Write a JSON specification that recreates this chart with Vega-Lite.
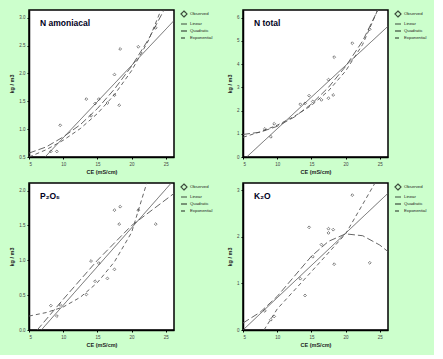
{
  "$schema": "https://vega.github.io/schema/vega-lite/v6.json",
  "background": "#ccffcc",
  "padding": {"left": 8, "top": 9, "right": 6, "bottom": 6},
  "config": {
    "font": "Liberation Sans",
    "view": {"stroke": "#000", "strokeWidth": 1.5, "fill": "white"},
    "axis": {"grid": false, "domainColor": "#000", "domainWidth": 1.5, "tickColor": "#000", "tickSize": 2, "labelFontSize": 4.5, "labelColor": "#444", "labelPadding": 2, "titleFontSize": 5.5, "titleColor": "#222", "titleFontWeight": "bold"},
    "legend": {"orient": "right", "offset": 6, "title": null, "labelFontSize": 4.3, "labelColor": "#222", "symbolSize": 36, "rowPadding": -1, "labelOffset": 2, "symbolStrokeWidth": 1.2, "symbolStrokeColor": "#000", "padding": 0},
    "title": {"anchor": "start", "frame": "group", "fontSize": 8.5, "fontWeight": "bold", "color": "#000022", "dx": 11, "offset": -17}
  },
  "datasets": {
    "d": [
      {"p":"A","t":"Observed","x":8.19,"y":0.60},{"p":"A","t":"Observed","x":9.07,"y":0.60},{"p":"A","t":"Observed","x":9.56,"y":1.07},{"p":"A","t":"Observed","x":13.38,"y":1.54},{"p":"A","t":"Observed","x":14.07,"y":1.24},{"p":"A","t":"Observed","x":14.66,"y":1.46},{"p":"A","t":"Observed","x":15.2,"y":1.54},{"p":"A","t":"Observed","x":16.47,"y":1.47},{"p":"A","t":"Observed","x":17.5,"y":1.61},{"p":"A","t":"Observed","x":17.5,"y":1.98},{"p":"A","t":"Observed","x":18.19,"y":1.43},{"p":"A","t":"Observed","x":18.33,"y":2.44},{"p":"A","t":"Observed","x":20.98,"y":2.48},{"p":"A","t":"Observed","x":23.53,"y":2.82},
      {"p":"A","t":"Linear","x":7.35,"y":0.5},{"p":"A","t":"Linear","x":26.2,"y":2.95},
      {"p":"A","t":"Quadratic","x":5,"y":0.57},{"p":"A","t":"Quadratic","x":7.5,"y":0.68},{"p":"A","t":"Quadratic","x":10,"y":0.86},{"p":"A","t":"Quadratic","x":12.5,"y":1.08},{"p":"A","t":"Quadratic","x":15,"y":1.37},{"p":"A","t":"Quadratic","x":17.5,"y":1.72},{"p":"A","t":"Quadratic","x":20,"y":2.13},{"p":"A","t":"Quadratic","x":22.5,"y":2.62},{"p":"A","t":"Quadratic","x":25,"y":3.2},
      {"p":"A","t":"Exponential","x":5,"y":0.5},{"p":"A","t":"Exponential","x":7.5,"y":0.63},{"p":"A","t":"Exponential","x":10,"y":0.8},{"p":"A","t":"Exponential","x":12.5,"y":1.01},{"p":"A","t":"Exponential","x":15,"y":1.28},{"p":"A","t":"Exponential","x":17.5,"y":1.62},{"p":"A","t":"Exponential","x":20,"y":2.05},{"p":"A","t":"Exponential","x":22.5,"y":2.6},{"p":"A","t":"Exponential","x":24.5,"y":3.2},
      {"p":"B","t":"Observed","x":8.19,"y":1.21},{"p":"B","t":"Observed","x":9.07,"y":0.87},{"p":"B","t":"Observed","x":9.56,"y":1.43},{"p":"B","t":"Observed","x":13.38,"y":2.27},{"p":"B","t":"Observed","x":14.07,"y":2.31},{"p":"B","t":"Observed","x":14.66,"y":2.64},{"p":"B","t":"Observed","x":15.2,"y":2.39},{"p":"B","t":"Observed","x":16.47,"y":2.46},{"p":"B","t":"Observed","x":17.5,"y":2.53},{"p":"B","t":"Observed","x":17.5,"y":3.33},{"p":"B","t":"Observed","x":18.19,"y":2.67},{"p":"B","t":"Observed","x":18.33,"y":4.3},{"p":"B","t":"Observed","x":20.98,"y":4.9},{"p":"B","t":"Observed","x":23.53,"y":5.5},
      {"p":"B","t":"Linear","x":5.54,"y":0},{"p":"B","t":"Linear","x":26.2,"y":5.63},
      {"p":"B","t":"Quadratic","x":5,"y":0.97},{"p":"B","t":"Quadratic","x":7.5,"y":1.07},{"p":"B","t":"Quadratic","x":10,"y":1.32},{"p":"B","t":"Quadratic","x":12.5,"y":1.72},{"p":"B","t":"Quadratic","x":15,"y":2.28},{"p":"B","t":"Quadratic","x":17.5,"y":3.0},{"p":"B","t":"Quadratic","x":20,"y":3.9},{"p":"B","t":"Quadratic","x":22.5,"y":5.0},{"p":"B","t":"Quadratic","x":25,"y":6.5},
      {"p":"B","t":"Exponential","x":5,"y":0.85},{"p":"B","t":"Exponential","x":7.5,"y":1.08},{"p":"B","t":"Exponential","x":10,"y":1.37},{"p":"B","t":"Exponential","x":12.5,"y":1.75},{"p":"B","t":"Exponential","x":15,"y":2.22},{"p":"B","t":"Exponential","x":17.5,"y":2.85},{"p":"B","t":"Exponential","x":20,"y":3.7},{"p":"B","t":"Exponential","x":22.5,"y":4.85},{"p":"B","t":"Exponential","x":24.5,"y":6.2},{"p":"B","t":"Exponential","x":25,"y":6.6},
      {"p":"C","t":"Observed","x":8.19,"y":0.35},{"p":"C","t":"Observed","x":9.07,"y":0.2},{"p":"C","t":"Observed","x":9.56,"y":0.36},{"p":"C","t":"Observed","x":13.38,"y":0.51},{"p":"C","t":"Observed","x":14.07,"y":0.99},{"p":"C","t":"Observed","x":14.66,"y":0.70},{"p":"C","t":"Observed","x":15.2,"y":0.96},{"p":"C","t":"Observed","x":16.47,"y":0.74},{"p":"C","t":"Observed","x":17.5,"y":0.87},{"p":"C","t":"Observed","x":17.5,"y":1.72},{"p":"C","t":"Observed","x":18.19,"y":1.52},{"p":"C","t":"Observed","x":18.33,"y":1.77},{"p":"C","t":"Observed","x":20.98,"y":1.72},{"p":"C","t":"Observed","x":23.53,"y":1.52},
      {"p":"C","t":"Linear","x":6.8,"y":0},{"p":"C","t":"Linear","x":25.8,"y":2.11},
      {"p":"C","t":"Quadratic","x":6.2,"y":0},{"p":"C","t":"Quadratic","x":10,"y":0.44},{"p":"C","t":"Quadratic","x":15,"y":1.0},{"p":"C","t":"Quadratic","x":20,"y":1.5},{"p":"C","t":"Quadratic","x":26.2,"y":1.96},
      {"p":"C","t":"Exponential","x":5,"y":0.2},{"p":"C","t":"Exponential","x":7.5,"y":0.25},{"p":"C","t":"Exponential","x":10,"y":0.33},{"p":"C","t":"Exponential","x":12.5,"y":0.47},{"p":"C","t":"Exponential","x":15,"y":0.68},{"p":"C","t":"Exponential","x":17.5,"y":0.98},{"p":"C","t":"Exponential","x":20,"y":1.4},{"p":"C","t":"Exponential","x":22.5,"y":2.2},
      {"p":"D","t":"Observed","x":8.19,"y":0.41},{"p":"D","t":"Observed","x":9.07,"y":0.22},{"p":"D","t":"Observed","x":9.56,"y":0.29},{"p":"D","t":"Observed","x":13.38,"y":1.1},{"p":"D","t":"Observed","x":14.07,"y":0.74},{"p":"D","t":"Observed","x":14.66,"y":2.2},{"p":"D","t":"Observed","x":15.2,"y":1.57},{"p":"D","t":"Observed","x":16.47,"y":1.83},{"p":"D","t":"Observed","x":17.5,"y":2.08},{"p":"D","t":"Observed","x":17.5,"y":2.17},{"p":"D","t":"Observed","x":18.19,"y":2.15},{"p":"D","t":"Observed","x":18.33,"y":1.41},{"p":"D","t":"Observed","x":20.98,"y":2.89},{"p":"D","t":"Observed","x":23.53,"y":1.44},
      {"p":"D","t":"Linear","x":5,"y":0},{"p":"D","t":"Linear","x":26.2,"y":2.93},
      {"p":"D","t":"Quadratic","x":5,"y":0.15},{"p":"D","t":"Quadratic","x":7.5,"y":0.38},{"p":"D","t":"Quadratic","x":10,"y":0.72},{"p":"D","t":"Quadratic","x":12.5,"y":1.15},{"p":"D","t":"Quadratic","x":15,"y":1.58},{"p":"D","t":"Quadratic","x":17.5,"y":1.9},{"p":"D","t":"Quadratic","x":20,"y":2.06},{"p":"D","t":"Quadratic","x":22.5,"y":2.02},{"p":"D","t":"Quadratic","x":25,"y":1.82},{"p":"D","t":"Quadratic","x":26.2,"y":1.68},
      {"p":"D","t":"Exponential","x":8.07,"y":0},{"p":"D","t":"Exponential","x":10,"y":0.45},{"p":"D","t":"Exponential","x":15,"y":1.25},{"p":"D","t":"Exponential","x":20,"y":2.06},{"p":"D","t":"Exponential","x":24.3,"y":3.15}
    ]
  },
  "columns": 2,
  "spacing": {"row": 26, "column": 69},
  "bounds": "flush",
  "resolve": {"scale": {"x": "independent", "y": "independent", "shape": "independent", "strokeDash": "independent"}, "legend": {"shape": "independent", "strokeDash": "independent"}},
  "concat": [
    {
      "width": 145, "height": 147,
      "title": "N amoniacal",
      "data": {"name": "d"},
      "transform": [{"filter": "datum.p == 'A'"}],
      "encoding": {
        "x": {"field": "x", "type": "quantitative", "scale": {"domain": [5, 26.2], "nice": false, "zero": false}, "axis": {"values": [5, 10, 15, 20, 25], "title": "CE (mS/cm)"}},
        "y": {"field": "y", "type": "quantitative", "scale": {"domain": [0.5, 3.14], "nice": false, "zero": false}, "axis": {"values": [0.5, 1.0, 1.5, 2.0, 2.5, 3.0], "format": ".1f", "title": "kg / m3"}}
      },
      "layer": [
        {"transform": [{"filter": "datum.t != 'Observed'"}], "mark": {"type": "line", "clip": true, "stroke": "#555", "strokeWidth": 0.9},
         "encoding": {"strokeDash": {"field": "t", "type": "nominal", "scale": {"domain": ["Observed", "Linear", "Quadratic", "Exponential"], "range": [[1, 0], [1, 0], [7, 3], [4, 3]]}}}},
        {"transform": [{"filter": "datum.t == 'Observed'"}], "mark": {"type": "point", "filled": false, "stroke": "#222", "strokeWidth": 0.8, "size": 8},
         "encoding": {"shape": {"field": "t", "type": "nominal", "scale": {"domain": ["Observed", "Linear", "Quadratic", "Exponential"], "range": ["diamond", "stroke", "stroke", "stroke"]}}}}
      ]
    },
    {
      "width": 145, "height": 147,
      "title": "N total",
      "data": {"name": "d"},
      "transform": [{"filter": "datum.p == 'B'"}],
      "encoding": {
        "x": {"field": "x", "type": "quantitative", "scale": {"domain": [5, 26.2], "nice": false, "zero": false}, "axis": {"values": [5, 10, 15, 20, 25], "title": "CE (mS/cm)"}},
        "y": {"field": "y", "type": "quantitative", "scale": {"domain": [0, 6.33], "nice": false, "zero": false}, "axis": {"values": [0, 1, 2, 3, 4, 5, 6], "format": "d", "title": "kg / m3"}}
      },
      "layer": [
        {"transform": [{"filter": "datum.t != 'Observed'"}], "mark": {"type": "line", "clip": true, "stroke": "#555", "strokeWidth": 0.9},
         "encoding": {"strokeDash": {"field": "t", "type": "nominal", "scale": {"domain": ["Observed", "Linear", "Quadratic", "Exponential"], "range": [[1, 0], [1, 0], [7, 3], [4, 3]]}}}},
        {"transform": [{"filter": "datum.t == 'Observed'"}], "mark": {"type": "point", "filled": false, "stroke": "#222", "strokeWidth": 0.8, "size": 8},
         "encoding": {"shape": {"field": "t", "type": "nominal", "scale": {"domain": ["Observed", "Linear", "Quadratic", "Exponential"], "range": ["diamond", "stroke", "stroke", "stroke"]}}}}
      ]
    },
    {
      "width": 145, "height": 147,
      "title": "P₂O₅",
      "data": {"name": "d"},
      "transform": [{"filter": "datum.p == 'C'"}],
      "encoding": {
        "x": {"field": "x", "type": "quantitative", "scale": {"domain": [5, 26.2], "nice": false, "zero": false}, "axis": {"values": [5, 10, 15, 20, 25], "title": "CE (mS/cm)"}},
        "y": {"field": "y", "type": "quantitative", "scale": {"domain": [0, 2.11], "nice": false, "zero": false}, "axis": {"values": [0, 0.5, 1.0, 1.5, 2.0], "format": ".1f", "title": "kg / m3"}}
      },
      "layer": [
        {"transform": [{"filter": "datum.t != 'Observed'"}], "mark": {"type": "line", "clip": true, "stroke": "#555", "strokeWidth": 0.9},
         "encoding": {"strokeDash": {"field": "t", "type": "nominal", "scale": {"domain": ["Observed", "Linear", "Quadratic", "Exponential"], "range": [[1, 0], [1, 0], [7, 3], [4, 3]]}}}},
        {"transform": [{"filter": "datum.t == 'Observed'"}], "mark": {"type": "point", "filled": false, "stroke": "#222", "strokeWidth": 0.8, "size": 8},
         "encoding": {"shape": {"field": "t", "type": "nominal", "scale": {"domain": ["Observed", "Linear", "Quadratic", "Exponential"], "range": ["diamond", "stroke", "stroke", "stroke"]}}}}
      ]
    },
    {
      "width": 145, "height": 147,
      "title": "K₂O",
      "data": {"name": "d"},
      "transform": [{"filter": "datum.p == 'D'"}],
      "encoding": {
        "x": {"field": "x", "type": "quantitative", "scale": {"domain": [5, 26.2], "nice": false, "zero": false}, "axis": {"values": [5, 10, 15, 20, 25], "title": "CE (mS/cm)"}},
        "y": {"field": "y", "type": "quantitative", "scale": {"domain": [0, 3.15], "nice": false, "zero": false}, "axis": {"values": [0, 1, 2, 3], "format": "d", "title": "kg / m3"}}
      },
      "layer": [
        {"transform": [{"filter": "datum.t != 'Observed'"}], "mark": {"type": "line", "clip": true, "stroke": "#555", "strokeWidth": 0.9},
         "encoding": {"strokeDash": {"field": "t", "type": "nominal", "scale": {"domain": ["Observed", "Linear", "Quadratic", "Exponential"], "range": [[1, 0], [1, 0], [7, 3], [4, 3]]}}}},
        {"transform": [{"filter": "datum.t == 'Observed'"}], "mark": {"type": "point", "filled": false, "stroke": "#222", "strokeWidth": 0.8, "size": 8},
         "encoding": {"shape": {"field": "t", "type": "nominal", "scale": {"domain": ["Observed", "Linear", "Quadratic", "Exponential"], "range": ["diamond", "stroke", "stroke", "stroke"]}}}}
      ]
    }
  ]
}
